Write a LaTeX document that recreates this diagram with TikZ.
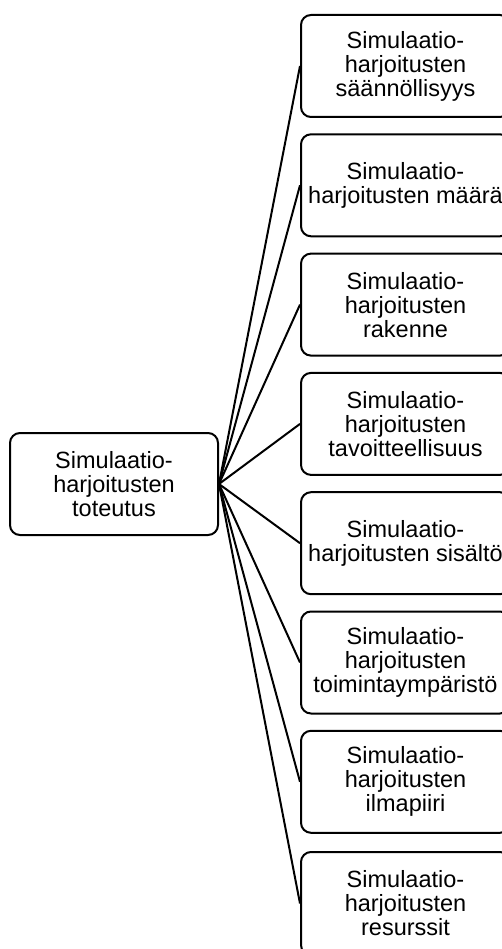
\documentclass[tikz,border=0pt]{standalone}
\usepackage{fontspec}
\setmainfont{Liberation Sans}
\begin{document}
\begin{tikzpicture}[x=1pt,y=-1pt,
  box/.style={draw=black, line width=2pt, rounded corners=10pt, minimum width=208pt, minimum height=102pt, align=center, font=\fontsize{23.5}{24}\selectfont, inner sep=0pt, text=black},
  link/.style={line width=2pt, draw=black}]
\useasboundingbox (0,0) rectangle (502,949);
\clip (0,0) rectangle (502,949);
\node[box] (L) at (114,484) {Simulaatio-\\harjoitusten\\toteutus};
\node[box,minimum width=209pt] (R1) at (405.5,66) {Simulaatio-\\harjoitusten\\säännöllisyys};
\node[box,minimum width=209pt] (R2) at (405.5,185.3) {Simulaatio-\\harjoitusten määrä};
\node[box,minimum width=209pt] (R3) at (405.5,304.6) {Simulaatio-\\harjoitusten\\rakenne};
\node[box,minimum width=209pt] (R4) at (405.5,423.9) {Simulaatio-\\harjoitusten\\tavoitteellisuus};
\node[box,minimum width=209pt] (R5) at (405.5,543.2) {Simulaatio-\\harjoitusten sisältö};
\node[box,minimum width=209pt] (R6) at (405.5,662.5) {Simulaatio-\\harjoitusten\\toimintaympäristö};
\node[box,minimum width=209pt] (R7) at (405.5,781.8) {Simulaatio-\\harjoitusten\\ilmapiiri};
\node[box,minimum width=209pt,minimum height=103pt] (R8) at (405.5,903.5) {Simulaatio-\\harjoitusten\\resurssit};
\foreach \r in {R1,R2,R3,R4,R5,R6,R7,R8}{
  \draw[link] (L.east) -- (\r.west);
}
\end{tikzpicture}
\end{document}
